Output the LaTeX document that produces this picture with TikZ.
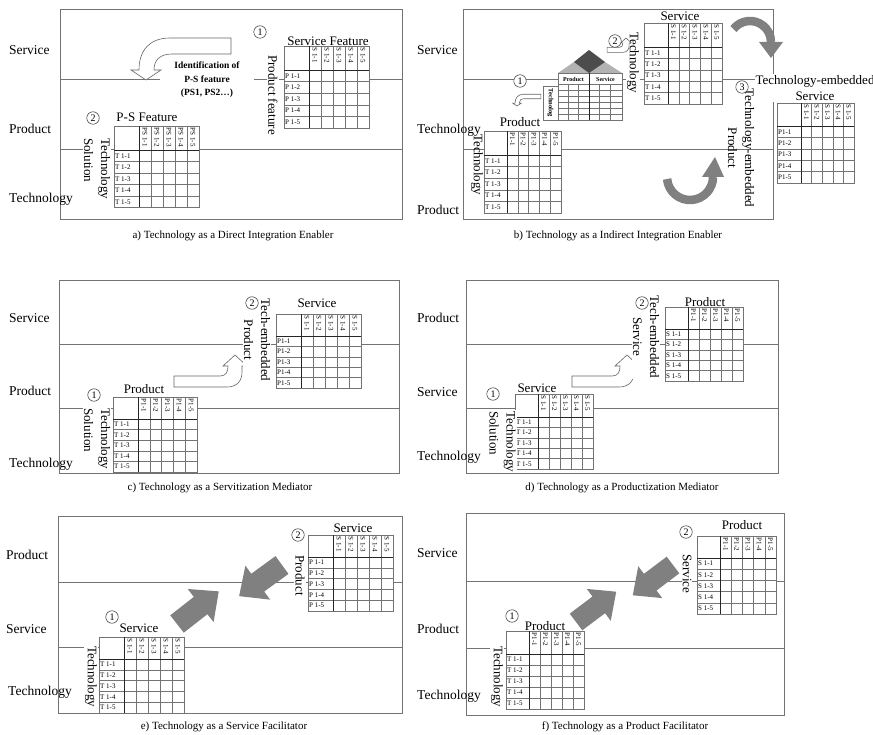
\documentclass[tikz,border=0pt]{standalone}
\usepackage{fontspec}
\setmainfont{Liberation Serif}
\usetikzlibrary{arrows.meta}

\tikzset{
  frame/.style={draw=black!55, line width=0.7pt},
  lane/.style={draw=black!55, line width=0.6pt},
  grid/.style={draw=black!55, line width=0.45pt},
  divider/.style={draw=black!85, line width=0.7pt},
  lanelabel/.style={anchor=base west, inner sep=0pt, font=\fontsize{13.5}{16}\selectfont},
  caption/.style={inner sep=0pt, font=\fontsize{11}{13}\selectfont},
  title/.style={anchor=base, inner sep=0pt, font=\fontsize{13}{15}\selectfont},
  axis/.style={rotate=-90, anchor=west, inner sep=1pt, fill=white, font=\fontsize{13}{17}\selectfont},
  num/.style={circle, draw=black!80, line width=0.5pt, fill=white, minimum size=12.5pt, inner sep=0pt, font=\fontsize{10}{10}\selectfont},
  cell/.style={inner sep=0.5pt, font=\fontsize{7}{7}\selectfont},
  hollow/.style={draw=black!60, line width=0.6pt, fill=white},
  block/.style={fill=black!50, draw=none},
  band/.style={draw=black!50, line width=8.5pt},
  bandhead/.style={fill=black!50, draw=none},
}

% QFD style matrix: #1 name, #2 left, #3 top, #4 corner width, #5 header height,
% #6 column width, #7 row height, #8 column label stem, #9 row label stem
\newcommand\qfdmatrix[9]{%
  \pgfmathsetmacro\qmx{#2}\pgfmathsetmacro\qmy{#3}%
  \pgfmathsetmacro\qmxa{#2+#4}\pgfmathsetmacro\qmya{#3+#5}%
  \pgfmathsetmacro\qmxb{#2+#4+5*#6}\pgfmathsetmacro\qmyb{#3+#5+5*#7}%
  \fill[white] (\qmx,\qmy) rectangle (\qmxb,\qmyb);
  \foreach \k in {1,...,4}{
    \draw[grid] ({\qmxa+\k*#6},\qmy) -- ({\qmxa+\k*#6},\qmyb);
    \draw[grid] (\qmx,{\qmya+\k*#7}) -- (\qmxb,{\qmya+\k*#7});
  }
  \draw[grid] (\qmx,\qmy) rectangle (\qmxb,\qmyb);
  \draw[divider] (\qmxa,\qmy) -- (\qmxa,\qmyb);
  \draw[divider] (\qmx,\qmya) -- (\qmxb,\qmya);
  \foreach \k in {1,...,5}{
    \node[cell, rotate=-90, anchor=west] (#1c\k) at ({\qmxa+(\k-0.5)*#6},{\qmy+1}) {#8\k};
    \node[cell, anchor=west] (#1r\k) at ({\qmx+0.5},{\qmya+(\k-0.5)*#7}) {#9\k};
  }
}

% hollow arrow: tail on the left, turning upwards (tip x, tip y, tail length, scale)
\newcommand\riseArrow[4]{%
  \begin{scope}[shift={(#1,#2)}, scale=#4]
    \draw[hollow] (-#3,21) -- (-15,21) .. controls (-9,21) and (-7,17) .. (-7,11)
      -- (-12,11) -- (0,0) -- (12,11) -- (7,11) -- (7,17)
      .. controls (7,26) and (2,32) .. (-8,32) -- (-#3,32) -- cycle;
  \end{scope}}

% hollow arrow: tail on the right, turning downwards (tip x, tip y, scale)
\newcommand\dropArrow[3]{%
  \begin{scope}[shift={(#1,#2)}, scale=#3]
    \draw[hollow] (85,-42) -- (24,-42) .. controls (4,-42) and (-7,-30) .. (-7,-10)
      -- (-15,-10) -- (0,0) -- (15,-10) -- (8,-10)
      .. controls (8,-20) and (14,-26) .. (26,-26) -- (85,-26) -- cycle;
  \end{scope}}

% solid block arrow (tail x, tail y, direction angle, scale)
\newcommand\blockArrow[4]{%
  \begin{scope}[shift={(#1,#2)}, rotate=#3, scale=#4]
    \fill[block] (0pt,-11pt) -- (30pt,-11pt) -- (30pt,-21pt) -- (53pt,0pt)
      -- (30pt,21pt) -- (30pt,11pt) -- (0pt,11pt) -- cycle;
  \end{scope}}

\begin{document}
\begin{tikzpicture}[x=1pt, y=-1pt]
\useasboundingbox (0,0) rectangle (873,735);

% ================= a) direct integration enabler =================
\draw[frame] (60,9) rectangle (402,219);
\draw[lane] (60,79) -- (160,79);
\draw[lane] (254,79) -- (402,79);
\draw[lane] (60,149) -- (402,149);
\node[lanelabel] (aS) at (9,55) {Service};
\node[lanelabel] (aP) at (9,134) {Product};
\node[lanelabel] (aT) at (9,203) {Technology};

\qfdmatrix{ma}{284}{46}{25}{24}{12}{11.6}{S 1-}{P 1-}
\node[title] (maT) at (328,45.5) {Service Feature};
\node[axis] (maA) at (273,54) {Product feature};
\node[num] (aN1) at (260,32) {1};

\qfdmatrix{mb}{114}{126}{25}{24}{12}{11.5}{PS 1-}{T 1-}
\node[title] (mbT) at (147,121.5) {P-S Feature};
\node[axis, align=left] (mbA) at (97,137) {Technology\\Solution};
\node[num] (aN2) at (93,118) {2};

\dropArrow{146}{80}{1}
\node[align=center, inner sep=0pt, font=\fontsize{9.5}{13.5}\selectfont\bfseries] (aId) at (207,80)
  {Identification of\\P-S feature\\(PS1, PS2…)};

\node[caption] (aCap) at (233,235.5) {a) Technology as a Direct Integration Enabler};

% ================= b) indirect integration enabler =================
\draw[frame] (463,9) rectangle (773,219);
\draw[lane] (463,79) -- (773,79);
\draw[lane] (463,149) -- (773,149);
\node[lanelabel] (bS) at (417,54.5) {Service};
\node[lanelabel] (bT) at (417,134) {Technology};
\node[lanelabel] (bP) at (417,215) {Product};

% small house of quality
\fill[black!30] (558,73) -- (574,62) -- (605,62) -- (622,73) -- cycle;
\fill[black!70] (589,50) -- (605,62) -- (589,73) -- (574,62) -- cycle;
\draw[grid, fill=white] (558,73) rectangle (622,120);
\draw[grid] (558,84) -- (622,84);
\foreach \k in {1,...,5} \draw[grid] (558,{84+6*\k}) -- (622,{84+6*\k});
\foreach \c in {568.3,578.7,599.5,610.5} \draw[grid] (\c,84) -- (\c,120);
\draw[divider] (589,73) -- (589,120);
\draw[grid, fill=white] (543,86) rectangle (558,120);
\node[inner sep=0pt, font=\fontsize{6}{6}\selectfont\bfseries] (hP) at (573.5,79) {Product};
\node[inner sep=0pt, font=\fontsize{6}{6}\selectfont\bfseries] (hS) at (605.5,79) {Service};
\node[inner sep=0pt, rotate=-90, font=\fontsize{6.5}{6.5}\selectfont\bfseries] (hT) at (550.5,103) {Technolog};
\dropArrow{517}{106}{0.28}
\node[num] (bN1) at (520,81) {1};

\qfdmatrix{mc}{644}{23}{24}{24}{10.8}{11.4}{S 1-}{T 1-}
\node[title] (mcT) at (680,20.5) {Service};
\node[axis] (mcA) at (633,31) {Technology};
\riseArrow{626}{38}{42}{0.45}
\node[num] (bN2) at (615,41) {2};

\qfdmatrix{md}{777}{103}{24}{23}{10.6}{11.4}{S 1-}{P1-}
\node[align=center, fill=white, inner sep=1pt, font=\fontsize{13}{16}\selectfont] (mdT) at (815,88)
  {Technology-embedded\\Service};
\node[axis, anchor=center, align=center, fill=none] (mdA) at (741,148) {Technology-embedded\\Product};
\node[num] (bN3) at (742,87) {3};

\qfdmatrix{me}{484}{131}{23}{24}{10.8}{11.6}{P1-}{T 1-}
\node[title] (meT) at (520,127) {Product};
\node[axis, fill=none] (meA) at (477,133) {Technology};

% curved cycle arrows
\draw[band] ([shift={(142:21pt)}]750,42) arc[start angle=142, end angle=0, radius=21pt];
\fill[bandhead] (759,42) -- (783,42) -- (771,58) -- cycle;
\draw[band] ([shift={(185:23pt)}]690,177) arc[start angle=185, end angle=360, radius=23pt];
\fill[bandhead] (702,177) -- (724,177) -- (715,157) -- cycle;

\node[caption] (bCap) at (618,236) {b) Technology as a Indirect Integration Enabler};

% ================= c) servitization mediator =================
\draw[frame] (59,280) rectangle (399,473);
\draw[lane] (59,344) -- (399,344);
\draw[lane] (59,408) -- (399,408);
\node[lanelabel] (cS) at (9,323) {Service};
\node[lanelabel] (cP) at (9,395) {Product};
\node[lanelabel] (cT) at (9,467) {Technology};

\qfdmatrix{mf}{113}{397}{25}{22}{11.8}{10.6}{P1-}{T 1-}
\node[title] (mfT) at (144,393) {Product};
\node[axis, align=left] (mfA) at (97,407) {Technology\\Solution};
\node[num] (cN1) at (94,395) {1};

\qfdmatrix{mg}{276}{314}{25}{22}{12}{10.4}{S 1-}{P1-}
\node[title] (mgT) at (317,307.5) {Service};
\riseArrow{235}{355}{61}{1}
\node[axis, anchor=center, align=center] (mgA) at (257,340) {Tech-embedded\\Product};
\node[num] (cN2) at (252,303) {2};

\node[caption] (cCap) at (220,488) {c) Technology as a Servitization Mediator};

% ================= d) productization mediator =================
\draw[frame] (466,280) rectangle (778,473);
\draw[lane] (466,344) -- (778,344);
\draw[lane] (466,408) -- (778,408);
\node[lanelabel] (dP) at (417,323) {Product};
\node[lanelabel] (dS) at (417,396) {Service};
\node[lanelabel] (dT) at (417,460) {Technology};

\qfdmatrix{mh}{515}{394}{23}{23}{11}{10.4}{S 1-}{T 1-}
\node[title] (mhT) at (537,392.5) {Service};
\node[axis, align=left] (mhA) at (502.5,410) {Technology\\Solution};
\node[num] (dN1) at (493,394) {1};

\qfdmatrix{mi}{665}{307}{23}{22}{11}{10.4}{P1-}{S 1-}
\node[title] (miT) at (705,306.5) {Product};
\riseArrow{627}{355}{55}{1}
\node[axis, anchor=center, align=center] (miA) at (646,337) {Tech-embedded\\Service};
\node[num] (dN2) at (642,303) {2};

\node[caption] (dCap) at (622,488) {d) Technology as a Productization Mediator};

% ================= e) service facilitator =================
\draw[frame] (58,516) rectangle (402,713);
\draw[lane] (58,582) -- (402,582);
\draw[lane] (58,647) -- (402,647);
\node[lanelabel] (eP) at (6,559) {Product};
\node[lanelabel] (eS) at (6,633) {Service};
\node[lanelabel] (eT) at (8,695) {Technology};

\qfdmatrix{mj}{99}{637}{25}{22}{12}{10.8}{S 1-}{T 1-}
\node[title] (mjT) at (139,632) {Service};
\node[axis] (mjA) at (91,645) {Technology};
\node[num] (eN1) at (112,617) {1};

\qfdmatrix{mk}{308}{535}{25}{22}{12}{10.8}{S 1-}{P 1-}
\node[title] (mkT) at (353,532) {Service};
\node[axis] (mkA) at (300,554) {Product};
\node[num] (eN2) at (298,535) {2};

\blockArrow{177}{624}{38}{1}
\blockArrow{282}{565}{216}{1}

\node[caption] (eCap) at (224,727) {e) Technology as a Service Facilitator};

% ================= f) product facilitator =================
\draw[frame] (466,513) rectangle (784,715);
\draw[lane] (466,581) -- (784,581);
\draw[lane] (466,648) -- (784,648);
\node[lanelabel] (fS) at (417,557) {Service};
\node[lanelabel] (fP) at (417,633) {Product};
\node[lanelabel] (fT) at (417,699) {Technology};

\qfdmatrix{ml}{506}{631}{23}{23}{11}{11}{P1-}{T 1-}
\node[title] (mlT) at (545,630.5) {Product};
\node[axis] (mlA) at (497,645) {Technology};
\node[num] (fN1) at (512,616) {1};

\qfdmatrix{mm}{697}{536}{23}{22}{11.2}{11.2}{P1-}{S 1-}
\node[title] (mmT) at (742,529.5) {Product};
\node[axis] (mmA) at (687,553) {Service};
\node[num] (fN2) at (686,532) {2};

\blockArrow{576}{622}{37}{0.95}
\blockArrow{673}{565}{217}{0.95}

\node[caption] (fCap) at (625,727) {f) Technology as a Product Facilitator};

\end{tikzpicture}
\end{document}
